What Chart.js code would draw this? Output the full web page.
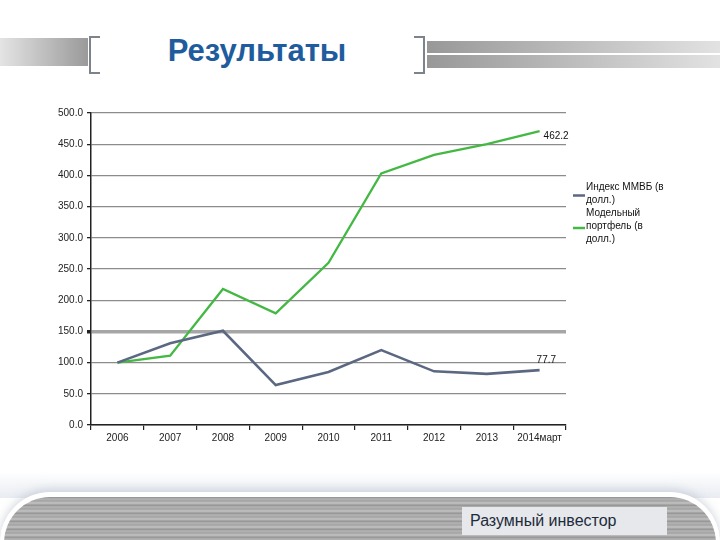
<!DOCTYPE html>
<html>
<head>
<meta charset="utf-8">
<script src="https://cdn.jsdelivr.net/npm/chart.js@4"></script>
<style>
  html, body { margin: 0; padding: 0; background: #fff; }
  #page { position: relative; width: 720px; height: 540px; overflow: hidden; font-family: Arial, "Liberation Sans", sans-serif; }
  .bar { position: absolute; }
  #barLeft { left: 0; top: 38px; width: 88px; height: 28px; background: linear-gradient(to right, #e4e4e4, #9a9a9a); }
  #barR1 { left: 427px; top: 41px; width: 293px; height: 12px; background: linear-gradient(to right, #989898, #e2e2e2); }
  #barR2 { left: 427px; top: 55px; width: 293px; height: 13px; background: linear-gradient(to right, #989898, #e2e2e2); }
  .bracket { position: absolute; top: 36px; width: 9px; height: 34px; border: 2px solid #7d838b; }
  #brL { left: 89px; border-right: none; }
  #brR { left: 414px; border-left: none; }
  #title { position: absolute; left: 100px; width: 314px; top: 33px; text-align: center; font-weight: bold; font-size: 31px; color: #1f5c9e; }
  #footShadow { position: absolute; left: -20px; top: 472px; width: 760px; height: 26px; background: linear-gradient(to bottom, rgba(255,255,255,0), rgba(214,220,230,0.55)); }
  #footRim { position: absolute; left: 0; top: 492px; width: 720px; height: 70px; background: #fff; border-radius: 50px 50px 0 0; box-shadow: 0 -3px 8px rgba(175,183,196,0.5); }
  #footBand { position: absolute; left: 4px; top: 497px; width: 712px; height: 60px; border-radius: 46px 46px 0 0;
    background: repeating-linear-gradient(to bottom, #8f8f8f 0px, #b5b5b5 2px, #a2a2a2 4px, #c4c4c4 6px, #9b9b9b 8px); }
  #footBox { position: absolute; left: 462px; top: 507px; width: 205px; height: 28px; background: #e6e8eb; color: #1d2b3c; font-size: 16px; line-height: 28px; padding-left: 8px; box-sizing: border-box; }
  #chart { position: absolute; left: 0; top: 0; }
</style>
</head>
<body>
<div id="page">
  <div class="bar" id="barLeft"></div>
  <div class="bar" id="barR1"></div>
  <div class="bar" id="barR2"></div>
  <div class="bracket" id="brL"></div>
  <div class="bracket" id="brR"></div>
  <div id="title">Результаты</div>
  <div id="footShadow"></div>
  <div id="footRim"></div>
  <div id="footBand"></div>
  <div id="footBox">Разумный инвестор</div>
  <canvas id="chart" width="720" height="540"></canvas>
</div>
<script>
// Categories (years)
const years = ['2006', '2007', '2008', '2009', '2010', '2011', '2012', '2013', '2014март'];
// Index MICEX in USD
const micexValues = [100, 131, 151, 64, 85, 120, 86, 82, 88];
// Model portfolio in USD
const portfolioValues = [100, 111, 218, 179, 260, 403, 433, 450, 471];
// Series names as shown in the legend (wrapped lines)
const micexName = ['Индекс ММВБ (в', 'долл.)'];
const portfolioName = ['Модельный', 'портфель (в', 'долл.)'];
// Labels written at the last point of each series
const endLabels = ['77.7', '462.2'];

const micexColor = '#5c6882';
const portfolioColor = '#43b843';

// Draws the last value of each series next to its end point
const endLabelPlugin = {
    id: 'endLabels',
    afterDatasetsDraw(chart) {
        const ctx = chart.ctx;
        ctx.save();
        ctx.font = '10px Arial';
        ctx.fillStyle = '#111';
        ctx.textBaseline = 'middle';
        chart.data.datasets.forEach((ds, i) => {
            const meta = chart.getDatasetMeta(i);
            const pt = meta.data[meta.data.length - 1];
            if (!pt) return;
            if (i === 0) {
                ctx.fillText(endLabels[i], pt.x - 3, pt.y - 10);
            } else {
                ctx.fillText(endLabels[i], pt.x + 4, pt.y + 5);
            }
        });
        ctx.restore();
    }
};

// Legend on the right with wrapped text
const sideLegendPlugin = {
    id: 'sideLegend',
    afterDraw(chart) {
        const ctx = chart.ctx;
        const x = chart.chartArea.right + 7;
        const lineH = 13;
        const items = [
            { name: micexName, color: micexColor, top: 187 },
            { name: portfolioName, color: portfolioColor, top: 213 }
        ];
        ctx.save();
        ctx.font = '10px Arial';
        ctx.fillStyle = '#111';
        ctx.textBaseline = 'middle';
        items.forEach(item => {
            const n = item.name.length;
            const midY = item.top + (n - 1) * lineH / 2 + 2;
            ctx.strokeStyle = item.color;
            ctx.lineWidth = 2.5;
            ctx.beginPath();
            ctx.moveTo(x, midY);
            ctx.lineTo(x + 12, midY);
            ctx.stroke();
            item.name.forEach((line, j) => {
                ctx.fillText(line, x + 13, item.top + j * lineH);
            });
        });
        ctx.restore();
    }
};

new Chart(document.getElementById('chart'), {
    type: 'line',
    data: {
        labels: years,
        datasets: [
            {
                label: micexName.join(' '),
                data: micexValues,
                borderColor: micexColor,
                borderWidth: 2.6,
                pointRadius: 0,
                tension: 0
            },
            {
                label: portfolioName.join(' '),
                data: portfolioValues,
                borderColor: portfolioColor,
                borderWidth: 2.3,
                pointRadius: 0,
                tension: 0
            }
        ]
    },
    options: {
        responsive: false,
        animation: false,
        layout: {
            padding: { left: 0, right: 154, top: 113, bottom: 85 }
        },
        plugins: {
            legend: { display: false },
            tooltip: { enabled: false }
        },
        scales: {
            x: {
                offset: true,
                afterFit(scale) { scale.height = 30; },
                border: { color: '#222', width: 1.5 },
                grid: {
                    offset: true,
                    drawOnChartArea: false,
                    tickLength: 5,
                    tickColor: '#222',
                    lineWidth: 1.2
                },
                ticks: {
                    color: '#222',
                    font: { family: 'Arial', size: 10 },
                    padding: 2,
                    maxRotation: 0,
                    autoSkip: false
                }
            },
            y: {
                min: 0,
                max: 500,
                afterFit(scale) { scale.width = 91; },
                border: { color: '#222', width: 1.5 },
                grid: {
                    color: ctx => ctx.tick && ctx.tick.value === 150 ? '#a6a6a6' : '#8c8c8c',
                    lineWidth: ctx => ctx.tick && ctx.tick.value === 150 ? 3.5 : 1.3,
                    tickLength: 4,
                    tickColor: '#222'
                },
                ticks: {
                    stepSize: 50,
                    color: '#222',
                    font: { family: 'Arial', size: 10 },
                    padding: 4,
                    callback: v => v.toFixed(1)
                }
            }
        }
    },
    plugins: [endLabelPlugin, sideLegendPlugin]
});
</script>
</body>
</html>
